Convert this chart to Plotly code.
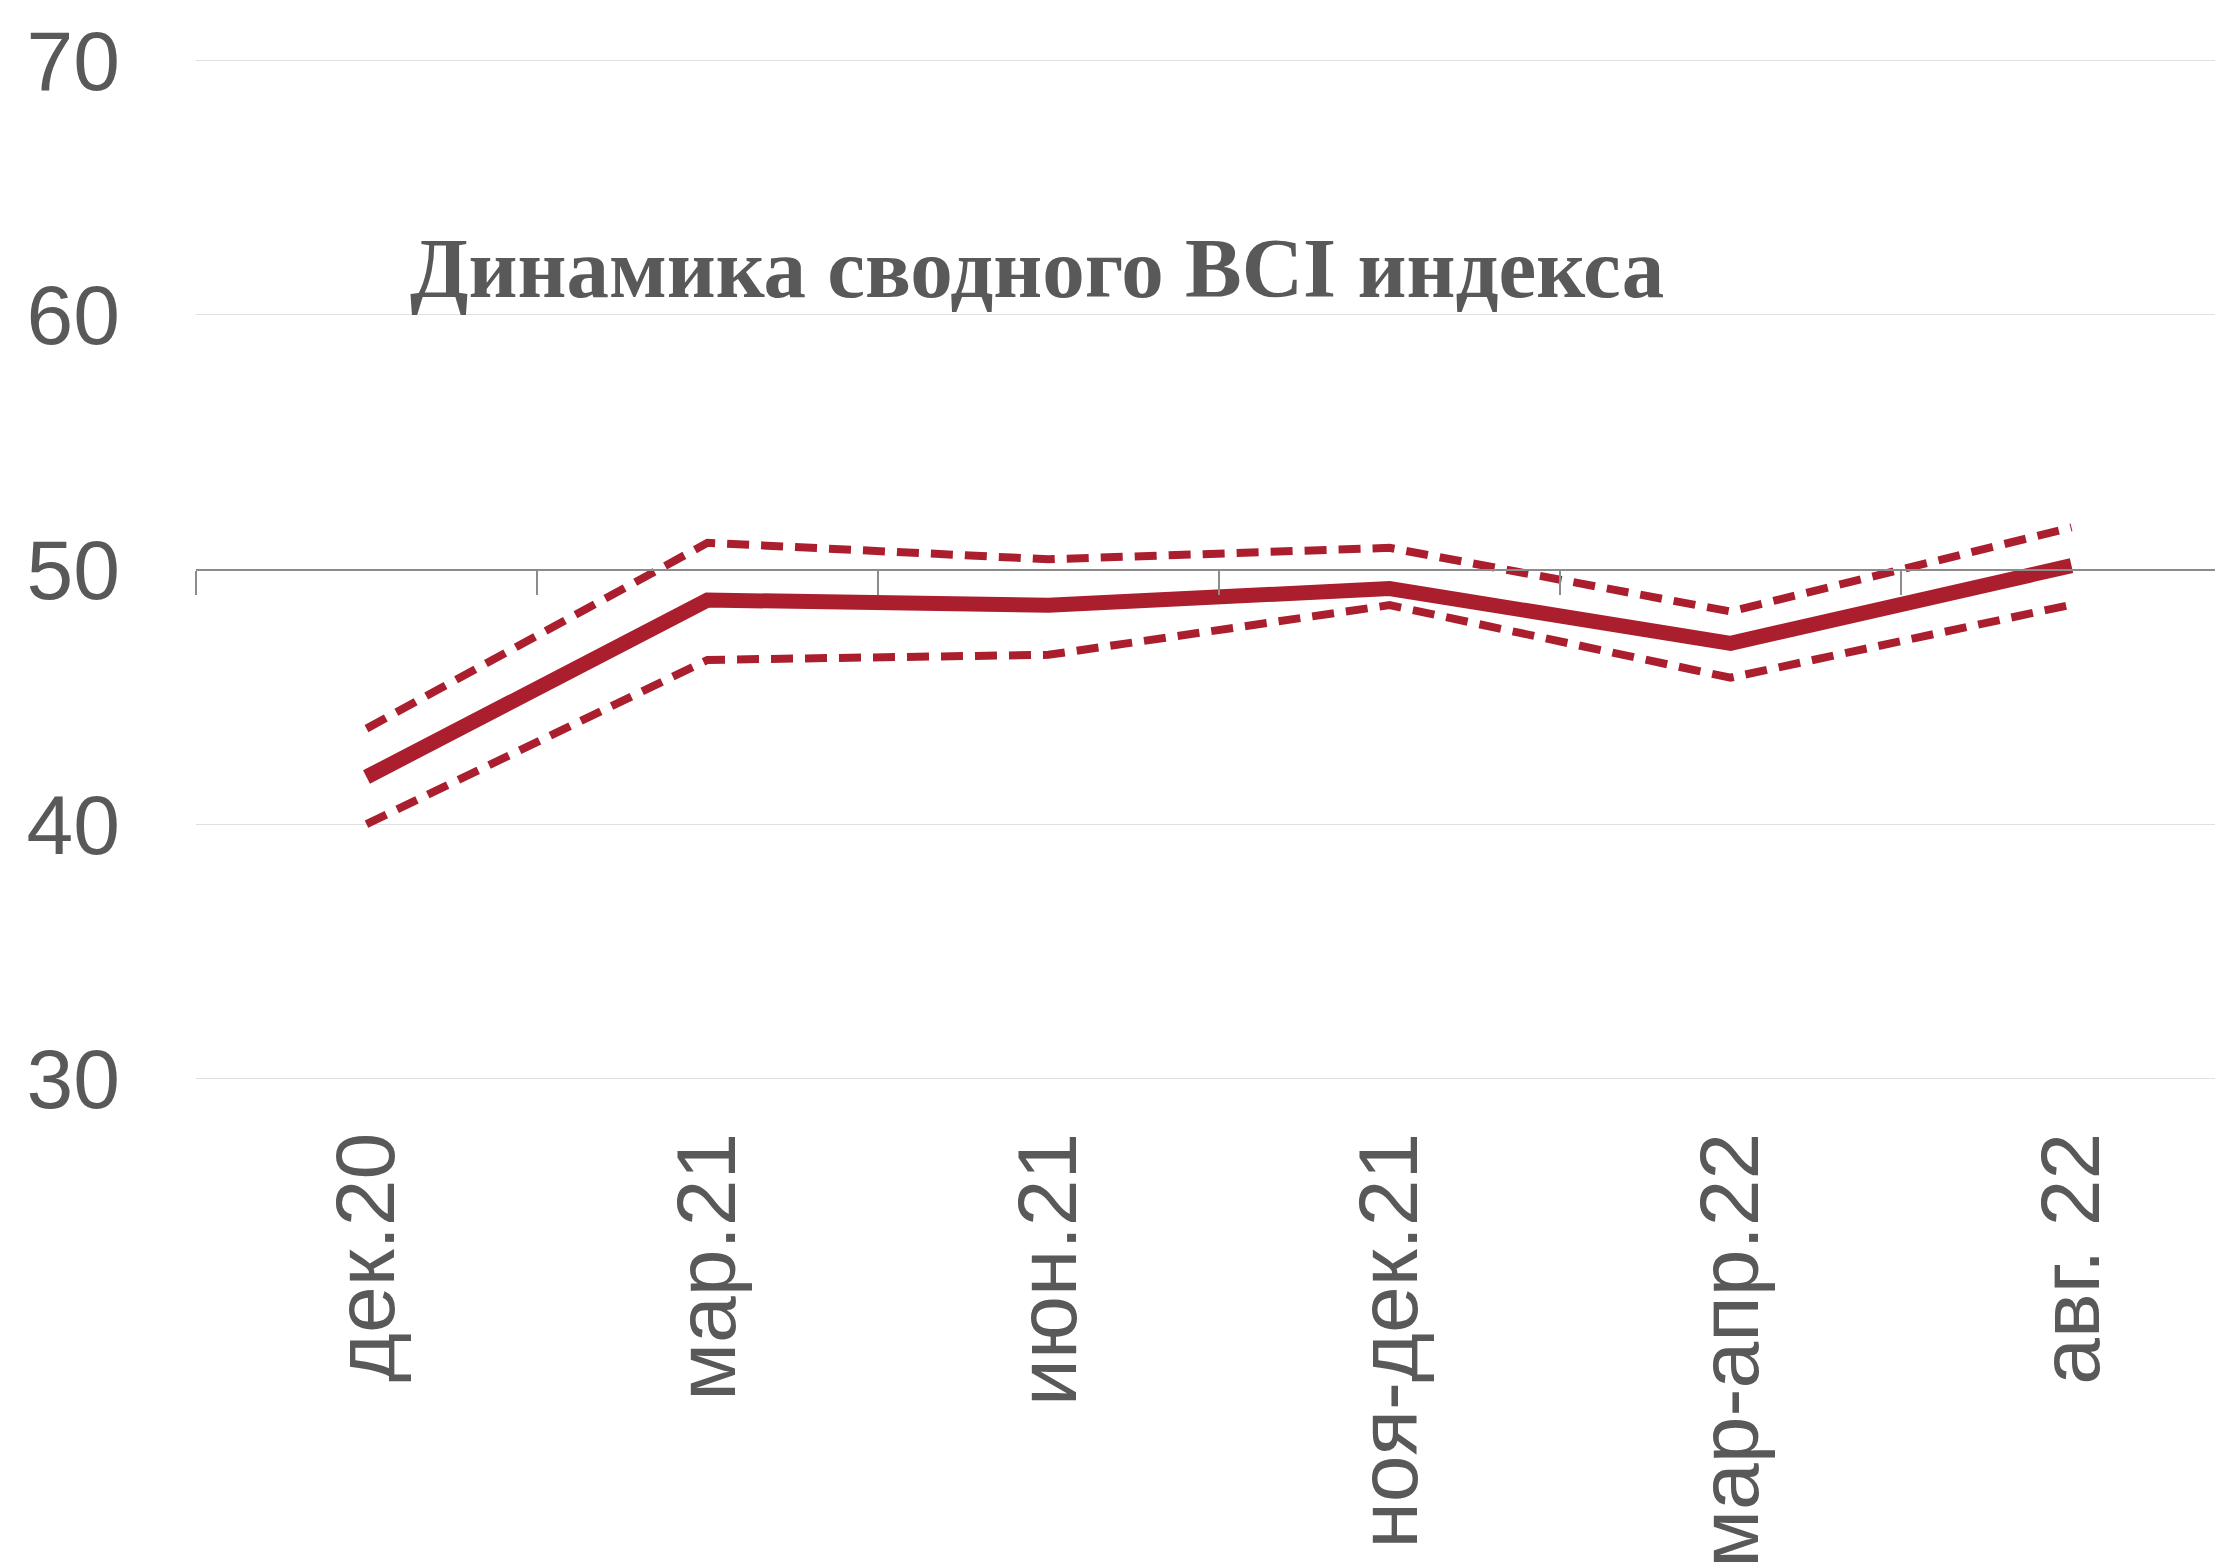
import plotly.graph_objects as go

categories = ["дек.20", "мар.21", "июн.21", "ноя-дек.21", "мар-апр.22", "авг. 22"]
bci_main = [41.85, 48.8, 48.6, 49.25, 47.1, 50.15]
bci_upper = [43.75, 51.05, 50.4, 50.85, 48.35, 51.65]
bci_lower = [40.0, 46.45, 46.65, 48.6, 45.75, 48.62]
y_ticks = [30, 40, 50, 60, 70]
title_text = "Динамика сводного BCI индекса"

RED = "#AA1E2E"
GREY = "#595959"

fig = go.Figure()
fig.add_trace(go.Scatter(x=categories, y=bci_upper, mode="lines",
                         line=dict(color=RED, width=8, dash="22px,12px"),
                         showlegend=False, hoverinfo="skip"))
fig.add_trace(go.Scatter(x=categories, y=bci_lower, mode="lines",
                         line=dict(color=RED, width=8, dash="22px,12px"),
                         showlegend=False, hoverinfo="skip"))
fig.add_trace(go.Scatter(x=categories, y=bci_main, mode="lines",
                         line=dict(color=RED, width=15),
                         showlegend=False, hoverinfo="skip"))
# invisible trace so the crossing axis (at y=50) gets category boundaries
fig.add_trace(go.Scatter(x=categories, y=bci_main, mode="lines", xaxis="x2",
                         line=dict(color="rgba(0,0,0,0)", width=0),
                         showlegend=False, hoverinfo="skip"))

x_range = [-0.5, -0.5 + 2027 / 341]
y_range = [29.95, 70.05]

fig.update_layout(
    width=2223, height=1564,
    margin=dict(l=188, r=8, t=51, b=492, pad=0, autoexpand=False),
    paper_bgcolor="white", plot_bgcolor="white",
    font=dict(family="Liberation Sans, Arial, sans-serif", color=GREY),
    xaxis=dict(type="category", categoryorder="array", categoryarray=categories,
               range=x_range, showgrid=False, showline=False, zeroline=False,
               ticks="", tickangle=-90, ticklabelstandoff=35, automargin=False,
               tickfont=dict(size=84, color=GREY)),
    xaxis2=dict(type="category", categoryorder="array", categoryarray=categories,
                range=x_range, overlaying="x", anchor="free", position=0.5,
                showgrid=False, showline=True, linecolor="#8C8C8C", linewidth=2,
                ticks="outside", tickson="boundaries", ticklen=24,
                tickcolor="#8C8C8C", tickwidth=2, showticklabels=False,
                zeroline=False, automargin=False),
    yaxis=dict(range=y_range, tickvals=y_ticks, showgrid=True,
               gridcolor="#E0E0E0", gridwidth=1, zeroline=False, showline=False,
               ticks="", ticklabelstandoff=75, automargin=False,
               tickfont=dict(size=84, color=GREY)),
    annotations=[dict(text=title_text, xref="paper", yref="paper",
                      x=0.1046, y=0.795, xanchor="left", yanchor="middle",
                      showarrow=False,
                      font=dict(family="Liberation Serif, serif", size=85,
                                color=GREY, weight=700))],
)

fig.write_html("out.html")
